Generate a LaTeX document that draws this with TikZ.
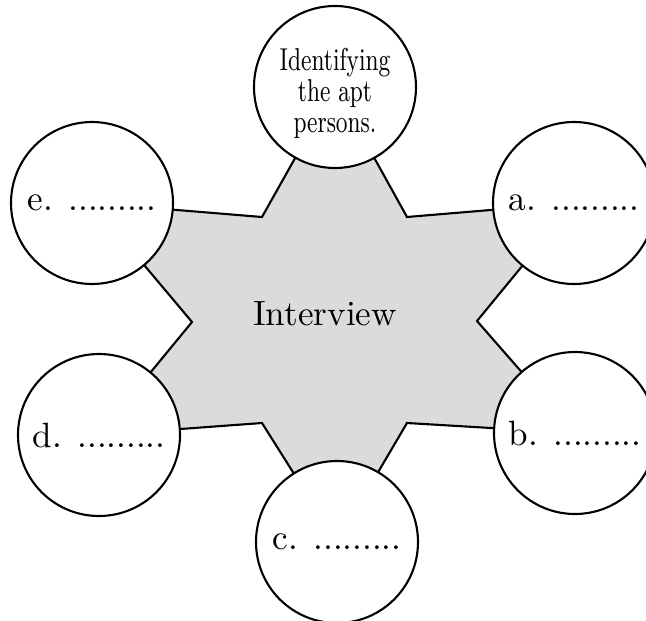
\documentclass[tikz,border=0pt]{standalone}
\usepackage{amsmath}
\usepackage{tikz}

\begin{document}
\begin{tikzpicture}[x=0.1mm,y=-0.1mm,
        bubble/.style={circle,draw,fill=white,line width=0.6pt,minimum size=16.2mm,inner sep=0pt,align=center},
        starfill/.style={fill=black!14,draw,line width=0.6pt,line join=miter}]
            \useasboundingbox (0,0) rectangle (646,620);
            % centres of the bubbles
            \coordinate (ct) at (335,87);
            \coordinate (ca) at (574,203);
            \coordinate (cb) at (575,433);
            \coordinate (cc) at (337,542);
            \coordinate (cd) at (99,435);
            \coordinate (ce) at (92,203);
            % inner corners of the star
            \coordinate (ita) at (407,217);
            \coordinate (iab) at (477,321);
            \coordinate (ibc) at (407,423);
            \coordinate (icd) at (262,423);
            \coordinate (ide) at (192,322);
            \coordinate (iet) at (262,217);
            \draw[starfill] (ct)--(ita)--(ca)--(iab)--(cb)--(ibc)--(cc)--(icd)--(cd)--(ide)--(ce)--(iet)--cycle;
            \node (mid) at (325,314) {Interview};
            \node[bubble,label={[yshift=-2.2pt]center:\scalebox{0.72}[1]{\fontsize{9}{8.7}\selectfont
                \begin{tabular}{@{}c@{}}Identifying\\the apt\\persons.\end{tabular}}}] (top) at (ct) {};
            \node[bubble] (a) at (ca) {a. .........};
            \node[bubble] (b) at (cb) {b. .........};
            \node[bubble] (c) at (cc) {c. .........};
            \node[bubble] (d) at (cd) {d. .........};
            \node[bubble] (e) at (ce) {e. .........};
        \end{tikzpicture}
\end{document}
